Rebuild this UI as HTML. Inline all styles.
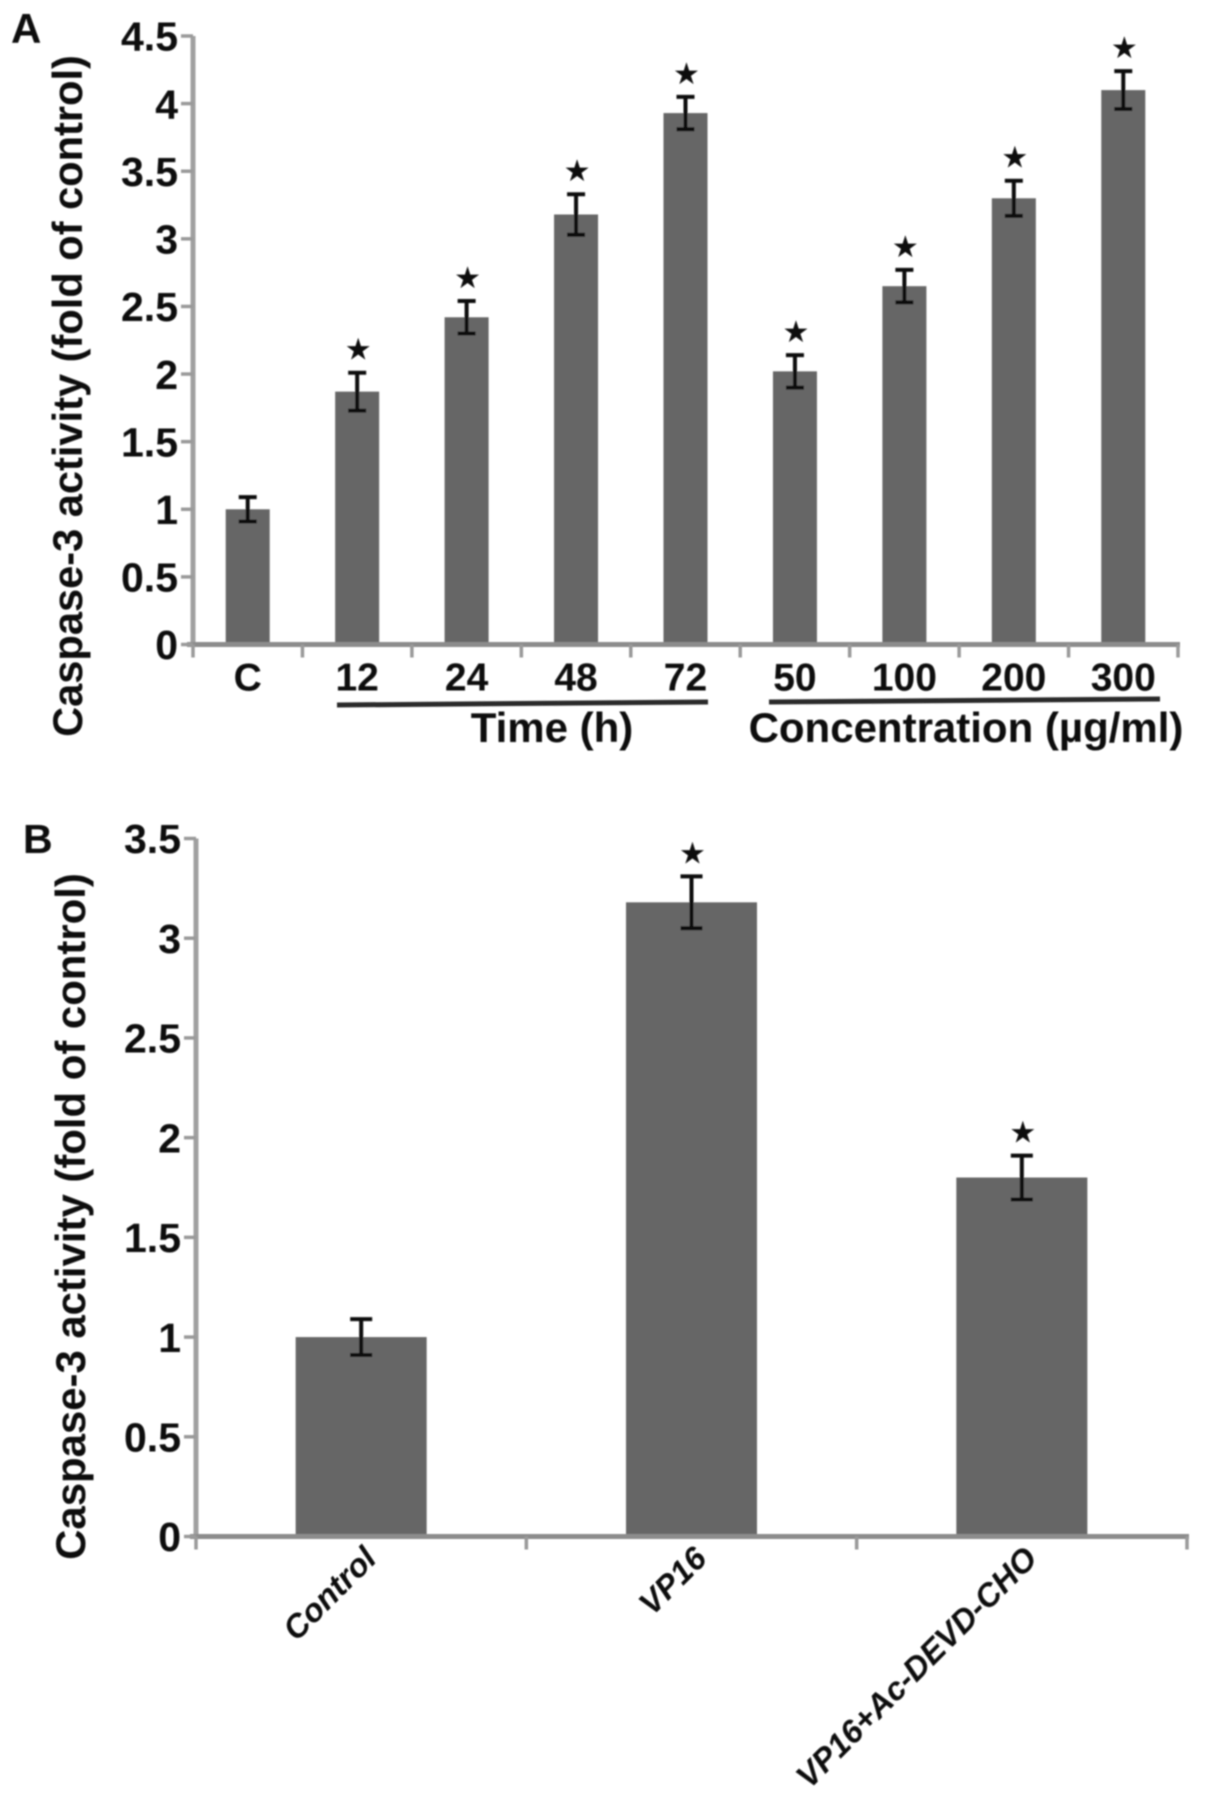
<!DOCTYPE html>
<html lang="en">
<head>
<meta charset="utf-8">
<title>Caspase-3 activity charts</title>
<style>
html,body{margin:0;padding:0;background:#fff;width:1205px;height:1809px;overflow:hidden}
svg{display:block;position:absolute;left:0;top:0}
text{font-family:"Liberation Sans",sans-serif;font-weight:bold;fill:#0a0a0a}
</style>
</head>
<body>
<svg id="fig" width="1205" height="1809" viewBox="0 0 1205 1809" xmlns="http://www.w3.org/2000/svg">
  <defs><filter id="soft" x="-5%" y="-5%" width="110%" height="110%"><feGaussianBlur stdDeviation="0.9"/></filter></defs>
  <g id="root" filter="url(#soft)">
    <text x="11" y="43" font-size="42">A</text>
    <text x="23" y="853" font-size="41">B</text>
    <text transform="translate(82,396) rotate(-90)" text-anchor="middle" font-size="41.6">Caspase-3 activity (fold of control)</text>
    <text transform="translate(85,1216.5) rotate(-90)" text-anchor="middle" font-size="41.9">Caspase-3 activity (fold of control)</text>
    <line x1="337" y1="705" x2="708" y2="702" stroke="#2a2a2a" stroke-width="5"/>
    <line x1="769" y1="702" x2="1160" y2="699" stroke="#2a2a2a" stroke-width="5"/>
    <text x="552" y="742" text-anchor="middle" font-size="42">Time (h)</text>
    <text x="966" y="742" text-anchor="middle" font-size="42">Concentration (µg/ml)</text>
  </g>
</svg>
<script>
const aCategories = ['C','12','24','48','72','50','100','200','300'];
const aValues = [1.0,1.87,2.42,3.18,3.93,2.02,2.65,3.30,4.10];
const aErrors = [0.09,0.14,0.12,0.15,0.12,0.12,0.12,0.13,0.14];
const aStars = [false,true,true,true,true,true,true,true,true];
const aTicks = ['0','0.5','1','1.5','2','2.5','3','3.5','4','4.5'];
const aTickValues = [0,0.5,1,1.5,2,2.5,3,3.5,4,4.5];

const bCategories = ['Control','VP16','VP16+Ac-DEVD-CHO'];
const bValues = [1.0,3.18,1.80];
const bErrors = [0.09,0.13,0.11];
const bStars = [false,true,true];
const bTicks = ['0','0.5','1','1.5','2','2.5','3','3.5'];
const bTickValues = [0,0.5,1,1.5,2,2.5,3,3.5];

const NS = 'http://www.w3.org/2000/svg';
const root = document.getElementById('root');

function make(tag, attrs, parent) {
  const el = document.createElementNS(NS, tag);
  for (const k in attrs) el.setAttribute(k, attrs[k]);
  parent.appendChild(el);
  return el;
}

function drawPanel(cfg) {
  const yScale = v => cfg.y0 - (v / cfg.yMax) * (cfg.y0 - cfg.yTop);
  const band = (cfg.xEnd - cfg.x0) / cfg.categories.length;
  const xCenter = i => cfg.x0 + band * (i + 0.5);

  const g = make('g', {}, root);
  
  

  cfg.values.forEach((v, i) => {
    const bar = make('rect', {x: xCenter(i) - cfg.barW / 2, y: yScale(v), width: cfg.barW, height: cfg.y0 - yScale(v), fill: '#666666'}, g);
    
    
  });

  const yAxis = make('line', {x1: cfg.x0, y1: yScale(cfg.yMax), x2: cfg.x0, y2: cfg.y0, stroke: '#a0a0a0', 'stroke-width': 5}, g);
  
  
  const xAxis = make('line', {x1: cfg.x0 - 6, y1: cfg.y0, x2: cfg.xEnd + 2, y2: cfg.y0, stroke: '#8c8c8c', 'stroke-width': 5}, g);
  
  

  cfg.tickValues.forEach((v, i) => {
    const t = make('line', {x1: cfg.x0 - 12, y1: yScale(v), x2: cfg.x0, y2: yScale(v), stroke: '#9a9a9a', 'stroke-width': 3.5}, g);
    
    
    const lab = make('text', {x: cfg.x0 - 15, y: yScale(v) + 14.7, 'text-anchor': 'end', 'font-size': 41}, g);
    lab.textContent = cfg.ticks[i];
    
    
  });

  for (let i = 0; i <= cfg.categories.length; i++) {
    const px = cfg.x0 + band * i;
    const t = make('line', {x1: px, y1: cfg.y0, x2: px, y2: cfg.y0 + 13, stroke: '#9a9a9a', 'stroke-width': 3.5}, g);
    
    
  }

  cfg.values.forEach((v, i) => {
    const cx = xCenter(i);
    const top = yScale(v + cfg.errors[i]);
    const bot = yScale(v - cfg.errors[i]);
    const cap = cfg.capHalf;
    const err = make('path', {d: 'M' + (cx - cap) + ' ' + top + 'H' + (cx + cap) + 'M' + cx + ' ' + top + 'V' + bot + 'M' + (cx - cap) + ' ' + bot + 'H' + (cx + cap), stroke: '#111', 'stroke-width': 4, fill: 'none'}, g);
    
    
    if (cfg.stars[i]) {
      const s = make('text', {x: cx + 1, y: top - 13, 'text-anchor': 'middle', 'font-size': 30, style: 'font-family:"DejaVu Sans",sans-serif;font-weight:normal'}, g);
      s.textContent = '★';
      
      
    }
    const lab = cfg.rotated
      ? make('text', {transform: 'translate(' + (cx + 17) + ',' + (cfg.y0 + 24) + ') rotate(-45)', 'text-anchor': 'end', 'font-size': 32.5, 'font-style': 'italic'}, g)
      : make('text', {x: cx, y: cfg.y0 + 46, 'text-anchor': 'middle', 'font-size': 39}, g);
    lab.textContent = cfg.categories[i];
    
    
  });
}

drawPanel({prefix: 'panel-a', categories: aCategories, values: aValues, errors: aErrors, stars: aStars, ticks: aTicks, tickValues: aTickValues,
  x0: 193, xEnd: 1178, y0: 644.5, yTop: 36, yMax: 4.5, barW: 44, capHalf: 9, rotated: false});
drawPanel({prefix: 'panel-b', categories: bCategories, values: bValues, errors: bErrors, stars: bStars, ticks: bTicks, tickValues: bTickValues,
  x0: 196, xEnd: 1187, y0: 1536.5, yTop: 838.5, yMax: 3.5, barW: 131, capHalf: 11, rotated: true});
</script>
</body>
</html>
